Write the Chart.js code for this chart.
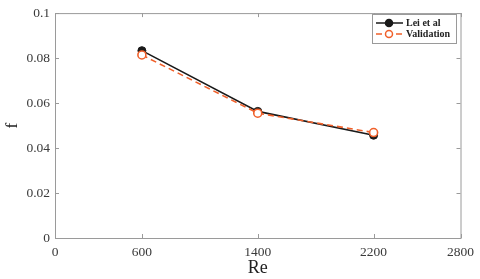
<!DOCTYPE html>
<html>
<head>
<meta charset="utf-8">
<script src="https://cdn.jsdelivr.net/npm/chart.js@4.4.1/dist/chart.umd.min.js"></script>
<style>
  html, body { margin: 0; padding: 0; background: #fff; }
  #wrap { width: 480px; height: 279px; }
</style>
</head>
<body>
<div id="wrap"><canvas id="chart" width="480" height="279"></canvas></div>
<script>
// Data
const reValues = [600, 1400, 2200]
const leiValues = [0.0833, 0.0563, 0.0457]
const validationValues = [0.0814, 0.0555, 0.0469]
const xTicks = [0, 600, 1400, 2200, 2800]
const yTicks = [0, 0.02, 0.04, 0.06, 0.08, 0.1]
const seriesNames = ["Lei et al", "Validation"]

const serif = "'Liberation Serif', 'DejaVu Serif', serif"
const axisGray = "#9a9a9a"
const orange = "#f0602a"

const toPoints = (xs, ys) => xs.map((x, i) => ({ x: x, y: ys[i] }))

// Box frame with inward ticks on all four sides
const framePlugin = {
  id: "frame",
  afterDraw(chart) {
    const { ctx, chartArea: a, scales } = chart
    ctx.save()
    ctx.strokeStyle = axisGray
    ctx.lineWidth = 1
    ctx.strokeRect(a.left + 0.5, a.top + 0.5, a.right - a.left, a.bottom - a.top)
    ctx.beginPath()
    xTicks.forEach((v) => {
      const px = Math.round(scales.x.getPixelForValue(v)) + 0.5
      ctx.moveTo(px, a.bottom); ctx.lineTo(px, a.bottom - 4)
      ctx.moveTo(px, a.top); ctx.lineTo(px, a.top + 4)
    })
    yTicks.forEach((v) => {
      const py = Math.round(scales.y.getPixelForValue(v)) + 0.5
      ctx.moveTo(a.left, py); ctx.lineTo(a.left + 4, py)
      ctx.moveTo(a.right, py); ctx.lineTo(a.right - 4, py)
    })
    ctx.stroke()
    ctx.restore()
  },
}

// Legend box in the top right corner, line + marker samples
const legendPlugin = {
  id: "boxLegend",
  afterDraw(chart) {
    const { ctx } = chart
    const x0 = 372, y0 = 14, w = 84, h = 29
    ctx.save()
    ctx.fillStyle = "#fff"
    ctx.fillRect(x0, y0, w, h)
    ctx.strokeStyle = axisGray
    ctx.lineWidth = 1
    ctx.strokeRect(x0 + 0.5, y0 + 0.5, w, h)

    chart.data.datasets.forEach((ds, i) => {
      const cy = y0 + 9 + i * 11
      ctx.strokeStyle = ds.borderColor
      ctx.lineWidth = 1.5
      ctx.setLineDash(ds.borderDash || [])
      ctx.beginPath()
      ctx.moveTo(x0 + 4, cy)
      ctx.lineTo(x0 + 31, cy)
      ctx.stroke()
      ctx.setLineDash([])
      ctx.beginPath()
      ctx.arc(x0 + 17, cy, 3.5, 0, Math.PI * 2)
      ctx.fillStyle = ds.pointBackgroundColor
      ctx.fill()
      ctx.strokeStyle = ds.pointBorderColor
      ctx.stroke()
      ctx.fillStyle = "#222"
      ctx.font = "bold 10px " + serif
      ctx.textBaseline = "middle"
      ctx.fillText(ds.label, x0 + 34, cy + 0.5)
    })
    ctx.restore()
  },
}

new Chart(document.getElementById("chart"), {
  type: "line",
  data: {
    datasets: [
      {
        label: seriesNames[0],
        data: toPoints(reValues, leiValues),
        borderColor: "#1a1a1a",
        borderWidth: 1.6,
        pointRadius: 4,
        pointBackgroundColor: "#1a1a1a",
        pointBorderColor: "#1a1a1a",
        pointBorderWidth: 1,
        order: 2,
      },
      {
        label: seriesNames[1],
        data: toPoints(reValues, validationValues),
        borderColor: orange,
        borderWidth: 1.6,
        borderDash: [6, 4],
        pointRadius: 4,
        pointBackgroundColor: "#fff",
        pointBorderColor: orange,
        pointBorderWidth: 1.6,
        order: 1,
      },
    ],
  },
  options: {
    responsive: false,
    animation: false,
    layout: { padding: { top: 9, right: 16, left: 0, bottom: 0 } },
    plugins: {
      legend: { display: false },
      tooltip: { enabled: false },
    },
    scales: {
      x: {
        type: "linear",
        min: 0,
        max: 2800,
        afterBuildTicks: (scale) => {
          scale.ticks = xTicks.map((v) => ({ value: v }))
        },
        afterFit: (scale) => { scale.height = 41 },
        grid: { display: false, drawTicks: false },
        border: { display: false },
        ticks: {
          padding: 6,
          color: "#3a3a3a",
          font: { family: serif, size: 13.5 },
          maxRotation: 0,
          callback: (v) => String(v),
        },
        title: {
          display: true,
          text: "Re",
          color: "#222",
          padding: { top: 0, bottom: 0 },
          font: { family: serif, size: 18 },
        },
      },
      y: {
        min: 0,
        max: 0.1,
        afterBuildTicks: (scale) => {
          scale.ticks = yTicks.map((v) => ({ value: v }))
        },
        afterFit: (scale) => { scale.width = 55 },
        grid: { display: false, drawTicks: false },
        border: { display: false },
        ticks: {
          padding: 5,
          color: "#3a3a3a",
          font: { family: serif, size: 13.5 },
          callback: (v) => String(Math.round(v * 100) / 100),
        },
        title: {
          display: true,
          text: "f",
          color: "#222",
          padding: { top: 2, bottom: 0 },
          font: { family: serif, size: 17 },
        },
      },
    },
  },
  plugins: [framePlugin, legendPlugin],
})
</script>
</body>
</html>
